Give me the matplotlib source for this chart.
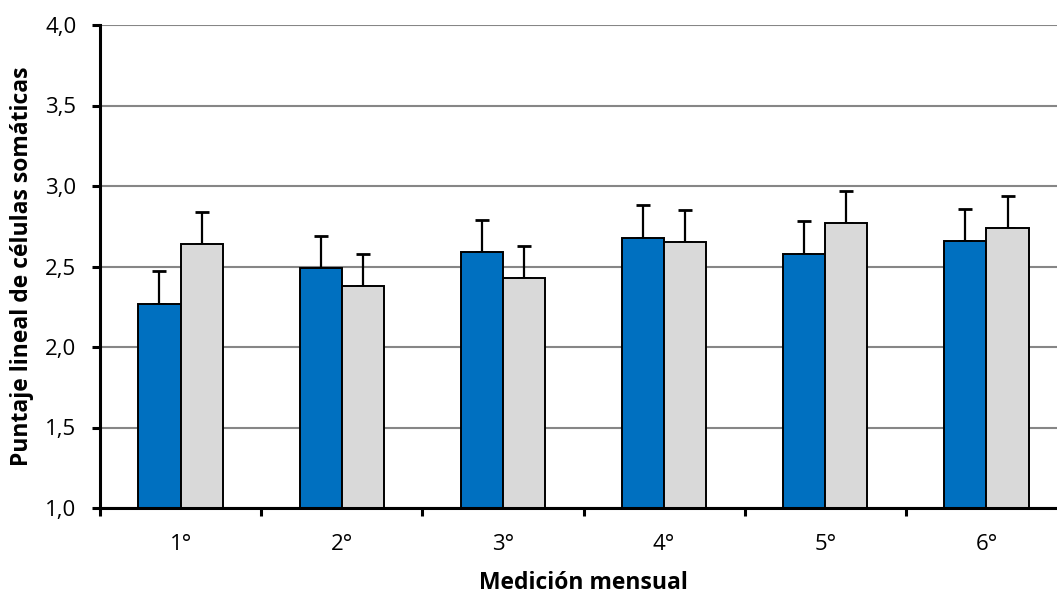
import matplotlib
matplotlib.use("Agg")
import matplotlib.pyplot as plt
import numpy as np

categories = ["1°", "2°", "3°", "4°", "5°", "6°"]
serie_a = [2.27, 2.49, 2.59, 2.68, 2.58, 2.66]
serie_b = [2.64, 2.38, 2.43, 2.65, 2.77, 2.74]
err_a = [0.20, 0.20, 0.20, 0.20, 0.20, 0.20]
err_b = [0.20, 0.20, 0.20, 0.20, 0.20, 0.20]
y_ticks = [1.0, 1.5, 2.0, 2.5, 3.0, 3.5, 4.0]
y_tick_labels = ["1,0", "1,5", "2,0", "2,5", "3,0", "3,5", "4,0"]

plt.rcParams['font.family'] = ['Open Sans', 'DejaVu Sans']

W, H = 1057, 595
fig = plt.figure(figsize=(W / 100, H / 100), dpi=100)
left, right, top, bottom = 100, 1067, 25, 508
ax = fig.add_axes([left / W, (H - bottom) / H, (right - left) / W, (bottom - top) / H])

x = np.arange(len(categories))
bw = 0.262
ax.bar(x - bw / 2, serie_a, bw, color="#0070C0", edgecolor="black", linewidth=1.4, zorder=3)
ax.bar(x + bw / 2, serie_b, bw, color="#D9D9D9", edgecolor="black", linewidth=1.4, zorder=3)
ax.errorbar(x - bw / 2, serie_a, yerr=[np.zeros(len(err_a)), err_a], fmt="none",
            ecolor="black", elinewidth=1.6, capsize=5.3, capthick=2.0, zorder=2)
ax.errorbar(x + bw / 2, serie_b, yerr=[np.zeros(len(err_b)), err_b], fmt="none",
            ecolor="black", elinewidth=1.6, capsize=5.3, capthick=2.0, zorder=2)

ax.set_xlim(-0.5, len(categories) - 0.5)
ax.set_ylim(1.0, 4.0)
ax.set_yticks(y_ticks)
ax.set_yticklabels(y_tick_labels, fontsize=16)
ax.set_xticks(x)
ax.set_xticklabels(categories, fontsize=16)
ax.set_xticks(np.arange(len(categories) + 1) - 0.5, minor=True)
ax.tick_params(axis="x", which="major", length=0, pad=19)
ax.tick_params(axis="x", which="minor", length=6, width=2.2, direction="out", color="black")
ax.tick_params(axis="y", which="major", length=6, width=2.2, direction="out", color="black", pad=11)

ax.yaxis.grid(True, color="#868686", linewidth=1.5, zorder=0)
ax.set_axisbelow(True)
for s in ["top", "right"]:
    ax.spines[s].set_visible(False)
for s in ["left", "bottom"]:
    ax.spines[s].set_linewidth(2.2)
    ax.spines[s].set_color("black")
    ax.spines[s].set_zorder(4)

ax.set_xlabel("Medición mensual", fontsize=16.5, fontweight="bold", labelpad=11)
ax.set_ylabel("Puntaje lineal de células somáticas", fontsize=16.5, fontweight="bold", labelpad=8)

fig.savefig("out.png", dpi=100)
